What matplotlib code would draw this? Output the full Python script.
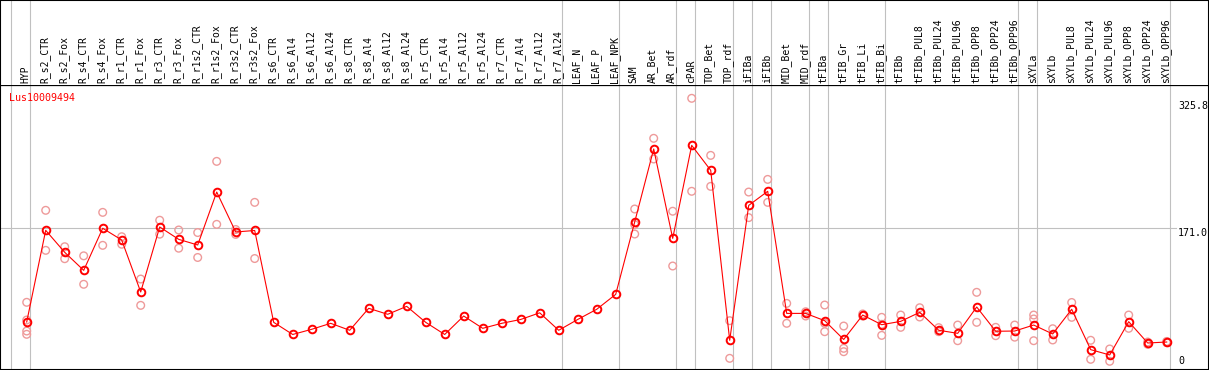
import matplotlib
matplotlib.use('Agg')
import matplotlib.pyplot as plt
import matplotlib.transforms as mtransforms

# ---- data ----
gene = 'Lus10009494'

samples = ['HYP', 'R_s2_CTR', 'R_s2_Fox', 'R_s4_CTR', 'R_s4_Fox', 'R_r1_CTR', 'R_r1_Fox',
           'R_r3_CTR', 'R_r3_Fox', 'R_r1s2_CTR', 'R_r1s2_Fox', 'R_r3s2_CTR', 'R_r3s2_Fox',
           'R_s6_CTR', 'R_s6_Al4', 'R_s6_Al12', 'R_s6_Al24', 'R_s8_CTR', 'R_s8_Al4',
           'R_s8_Al12', 'R_s8_Al24', 'R_r5_CTR', 'R_r5_Al4', 'R_r5_Al12', 'R_r5_Al24',
           'R_r7_CTR', 'R_r7_Al4', 'R_r7_Al12', 'R_r7_Al24', 'LEAF_N', 'LEAF_P', 'LEAF_NPK',
           'SAM', 'AR_Bet', 'AR_rdf', 'cPAR', 'TOP_Bet', 'TOP_rdf', 'iFIBa', 'iFIBb',
           'MID_Bet', 'MID_rdf', 'tFIBa', 'tFIB_Gr', 'tFIB_Li', 'tFIB_Bi', 'tFIBb',
           'tFIBb_PUL8', 'tFIBb_PUL24', 'tFIBb_PUL96', 'tFIBb_OPP8', 'tFIBb_OPP24',
           'tFIBb_OPP96', 'sXYLa', 'sXYLb', 'sXYLb_PUL8', 'sXYLb_PUL24', 'sXYLb_PUL96',
           'sXYLb_OPP8', 'sXYLb_OPP24', 'sXYLb_OPP96']

means = [56.7, 168.5, 141.7, 119.7, 171.0, 156.7, 93.3, 172.6, 157.5, 150.6, 215.2, 166.5, 168.3,
         56.3, 41.5, 47.8, 55.1, 46.6, 73.4, 66.1, 75.8,
         56.3, 41.5, 64.0, 49.0, 55.1, 59.8, 67.9, 46.6,
         59.8, 72.2, 90.4,
         178.7, 267.7, 158.7, 272.1, 241.7, 34.4, 198.9, 216.1, 67.2, 67.2,
         58.3, 35.4, 65.2, 53.4, 57.5, 68.5, 46.6, 42.9, 75.0, 45.4, 45.7,
         53.0, 42.1, 72.2, 23.0, 16.5, 57.1, 31.1, 32.3]

replicates = [
    [80.7, 59.1, 45.7, 41.7],
    [192.9, 144.1], [148.5, 133.9], [137.4, 102.7], [190.4, 150.2],
    [160.7, 151.5], [109.1, 77.0], [180.8, 163.8], [168.9, 146.7],
    [165.8, 135.4], [252.6, 175.8], [169.5, 163.5], [202.6, 134.1],
    [], [], [], [], [], [], [], [],
    [], [], [], [], [], [], [], [],
    [], [], [],
    [194.5, 175.5, 164.0], [280.7, 255.5], [191.8, 125.0], [329.5, 216.1],
    [259.9, 222.1], [58.3, 12.4], [215.2, 184.0], [230.6, 202.6],
    [79.4, 55.1], [69.2, 64.0],
    [77.4, 55.1, 44.9], [51.8, 24.6, 20.5], [66.5, 64.0], [62.4, 53.9, 40.4],
    [65.2, 50.2], [74.1, 62.8], [49.8, 44.9], [53.0, 33.9], [92.9, 56.3],
    [50.2, 40.0], [53.0, 38.2],
    [65.2, 60.4, 33.9], [48.5, 34.8], [80.5, 62.4], [34.4, 11.2], [23.8, 8.8],
    [65.2, 49.0], [32.3, 29.5], [33.0, 31.5],
]

# separators are drawn just right of these sample indices
group_ends = [-1, 0, 28, 31, 34, 35, 37, 38, 39, 41, 42, 45, 52, 53, 60]
y_ticks = [0, 171.0, 325.8]

# ---- layout (pixels of the 1209x370 picture) ----
W, H, DPI = 1209, 370, 100
header_px = 85
x0_px, step_px = 26.7, 19.0       # x pixel of first sample, spacing
y0_px, px_per_unit = 368.5, 0.82   # y pixel of value 0, scale
label_x_px = 1178
grid_col = '#c0c0c0'
rep_col = '#ee9a9a'
mono = 'DejaVu Sans Mono'

fig = plt.figure(figsize=(W / DPI, H / DPI), dpi=DPI)
head_frac = header_px / H
ax = fig.add_axes([0, 0, 1, 1 - head_frac])
hx = fig.add_axes([0, 1 - head_frac, 1, head_frac], sharex=ax)

ax.set_xlim(-x0_px / step_px, (W - x0_px) / step_px)
ax.set_ylim((y0_px - H) / px_per_unit, (y0_px - header_px) / px_per_unit)
hx.set_ylim(0, 1)

for a in (ax, hx):
    a.set_xticks([])
    a.set_yticks([])
    for sp in a.spines.values():
        sp.set_linewidth(1.5)
        sp.set_color('black')
    for g in group_ends:
        a.axvline(g + 0.19, color=grid_col, lw=0.8, zorder=0)
hx.spines['bottom'].set_visible(False)
ax.spines['top'].set_linewidth(0.9)

# horizontal reference line at the middle tick
ax.axhline(y_ticks[1], xmax=(label_x_px - 2) / W, color=grid_col, lw=0.8, zorder=0)

xs = list(range(len(samples)))

# replicate values
rx, ry = [], []
for i, vals in enumerate(replicates):
    for v in vals:
        rx.append(i)
        ry.append(v)
ax.scatter(rx, ry, s=5.5 ** 2, facecolors='none', edgecolors=rep_col, linewidths=1.0, zorder=2)

# mean line
ax.plot(xs, means, color='red', lw=0.8, marker='o', ms=5.5, mfc='none', mew=1.4, zorder=3)

# value labels on the right
tr = mtransforms.blended_transform_factory(ax.transAxes, ax.transData)
lx = label_x_px / W
ax.text(lx, y_ticks[2], f'{y_ticks[2]:.1f}', transform=tr, ha='left', va='top',
        fontsize=7.2, family=mono)
ax.text(lx, y_ticks[1], f'{y_ticks[1]:.1f}', transform=tr, ha='left', va='top',
        fontsize=7.2, family=mono)
ax.annotate(f'{y_ticks[0]}', xy=(lx, y_ticks[0]), xycoords=tr, xytext=(0, 2),
            textcoords='offset points', ha='left', va='bottom', fontsize=7.2, family=mono)

# gene name
ax.annotate(gene, xy=(0, 1), xycoords='axes fraction', xytext=(6.8, -5.5),
            textcoords='offset points', ha='left', va='top', color='red',
            fontsize=7.2, family=mono)

# column labels
htr = mtransforms.blended_transform_factory(hx.transData, hx.transAxes)
for i, s in enumerate(samples):
    hx.text(i - 0.05, 2 / header_px, s, transform=htr, rotation=90, ha='center',
            va='bottom', fontsize=7, family=mono)

fig.savefig('out.png', dpi=DPI)
